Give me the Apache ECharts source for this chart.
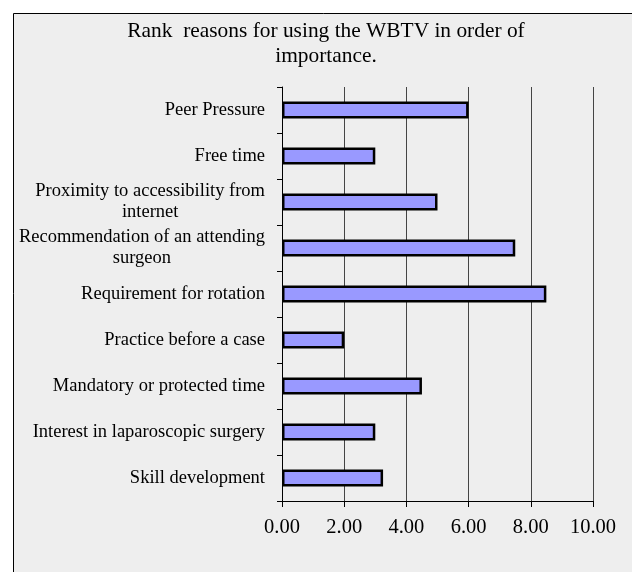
<!DOCTYPE html>
<html>
<head>
<meta charset="utf-8">
<script src="https://cdn.jsdelivr.net/npm/echarts@6/dist/echarts.min.js"></script>
<style>
  html, body { margin: 0; padding: 0; background: #ffffff; }
  #chart { width: 632px; height: 572px; }
</style>
</head>
<body>
<div id="chart"></div>
<script>
// Data (top level)
const titleText = 'Rank  reasons for using the WBTV in order of\nimportance.';
const categories = [
  'Peer Pressure',
  'Free time',
  'Proximity to accessibility from\ninternet',
  'Recommendation of an attending\nsurgeon',
  'Requirement for rotation',
  'Practice before a case',
  'Mandatory or protected time',
  'Interest in laparoscopic surgery',
  'Skill development'
];
const values = [6.0, 3.0, 5.0, 7.5, 8.5, 2.0, 4.5, 3.0, 3.25];
const xMin = 0, xMax = 10, xStep = 2;

const FONT = '"Liberation Serif", "Times New Roman", serif';

const chart = echarts.init(document.getElementById('chart'), null, { renderer: 'canvas' });
chart.setOption({
  animation: false,
  backgroundColor: 'transparent',
  graphic: [{
    type: 'rect',
    z: -100,
    silent: true,
    shape: { x: 13.5, y: 13.5, width: 625, height: 600 },
    style: { fill: '#eeeeee', stroke: '#000000', lineWidth: 1 }
  }],
  title: {
    text: titleText,
    left: 326,
    top: 19,
    padding: 0,
    textAlign: 'center',
    textStyle: {
      fontFamily: FONT,
      fontSize: 21.4,
      fontWeight: 'normal',
      color: '#000000',
      lineHeight: 25
    }
  },
  grid: {
    left: 282,
    right: 39,
    top: 87,
    bottom: 71,
    containLabel: false,
    outerBoundsMode: 'none'
  },
  xAxis: {
    type: 'value',
    min: xMin,
    max: xMax,
    interval: xStep,
    axisLine: { show: true, lineStyle: { color: '#000000', width: 1 } },
    axisTick: { show: true, length: 6, lineStyle: { color: '#000000', width: 1 } },
    splitLine: { show: true, lineStyle: { color: '#444444', width: 1 } },
    axisLabel: {
      margin: 16,
      fontFamily: FONT,
      fontSize: 20.5,
      color: '#000000',
      formatter: v => v.toFixed(2)
    }
  },
  yAxis: {
    type: 'category',
    inverse: true,
    data: categories,
    axisLine: { show: true, lineStyle: { color: '#000000', width: 1 } },
    axisTick: { show: true, length: 5, lineStyle: { color: '#000000', width: 1 } },
    splitLine: { show: false },
    axisLabel: {
      margin: 17,
      interval: 0,
      fontFamily: FONT,
      fontSize: 18.5,
      color: '#000000',
      lineHeight: 21,
      formatter: function (v) {
        if (v.indexOf('\n') >= 0) {
          return v.split('\n').map(s => '{c|' + s + '}').join('\n');
        }
        return v;
      },
      rich: {
        c: {
          align: 'center',
          fontFamily: FONT,
          fontSize: 18.5,
          color: '#000000',
          lineHeight: 21
        }
      }
    }
  },
  series: [{
    type: 'bar',
    data: values,
    barWidth: 17,
    itemStyle: {
      color: '#9999ff',
      borderColor: '#000000',
      borderWidth: 2.5
    }
  }]
});
</script>
</body>
</html>
